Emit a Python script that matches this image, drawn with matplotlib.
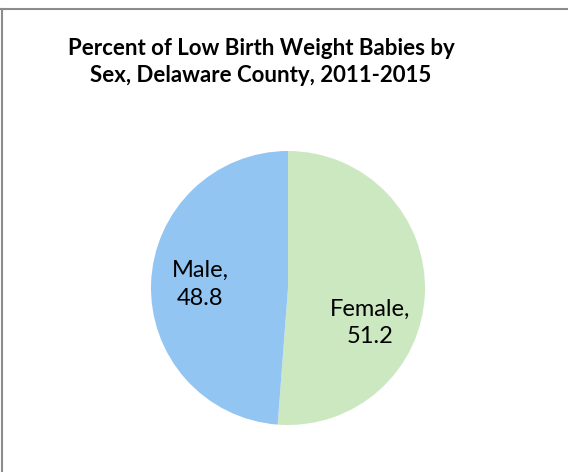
"""Pie chart: low birth weight babies by sex, Delaware County, 2011-2015."""

import matplotlib
matplotlib.use("Agg")
import matplotlib.pyplot as plt
from matplotlib.lines import Line2D

# ── Data ──────────────────────────────────────────────────────────────────────
CATEGORIES = ["Female", "Male"]
PERCENTS   = [51.2, 48.8]
COLORS     = ["#CBE8C1", "#93C5F3"]

TITLE = "Percent of Low Birth Weight Babies by\nSex, Delaware County, 2011-2015"

W, H, DPI = 568, 472, 100

plt.rcParams["font.family"] = ["Lato", "DejaVu Sans"]

fig = plt.figure(figsize=(W / DPI, H / DPI), dpi=DPI)
fig.patch.set_facecolor("white")

# pie box in pixel terms: centre (288, 288), radius ~137
cx, cy, r = 288, 288, 137
ax = fig.add_axes([(cx - r) / W, (H - cy - r) / H, 2 * r / W, 2 * r / H])

labels = [f"{c},\n{v}" for c, v in zip(CATEGORIES, PERCENTS)]
wedges, texts = ax.pie(
    PERCENTS,
    labels=labels,
    colors=COLORS,
    startangle=90,
    counterclock=False,
    radius=1.0,
    labeldistance=0.64,
    wedgeprops={"linewidth": 0},
    textprops={"fontsize": 17, "color": "black", "linespacing": 1.4},
)
# pie() pads the limits to ±1.25; let the disc fill the box instead
ax.set_xlim(-1, 1)
ax.set_ylim(-1, 1)
ax.axis("off")

for t in texts:
    t.set_horizontalalignment("center")
    t.set_verticalalignment("center")
# Excel nudged the Female label a little lower
fx, fy = texts[0].get_position()
texts[0].set_position((fx - 0.04, fy - 0.23))

# ── Title ─────────────────────────────────────────────────────────────────────
fig.text(261 / W, 1 - 62 / H, TITLE, ha="center", va="center",
         fontsize=16, fontweight="bold", linespacing=1.35)

# ── Chart-area frame (cropped: only top and left edges visible) ───────────
fig.add_artist(Line2D([0, 1], [1 - 9 / H, 1 - 9 / H], transform=fig.transFigure,
                      color="#8C8C8C", linewidth=1.5))
fig.add_artist(Line2D([1.5 / W, 1.5 / W], [0, 1 - 9 / H], transform=fig.transFigure,
                      color="#8C8C8C", linewidth=1.5))

fig.savefig("out.png", dpi=DPI)
